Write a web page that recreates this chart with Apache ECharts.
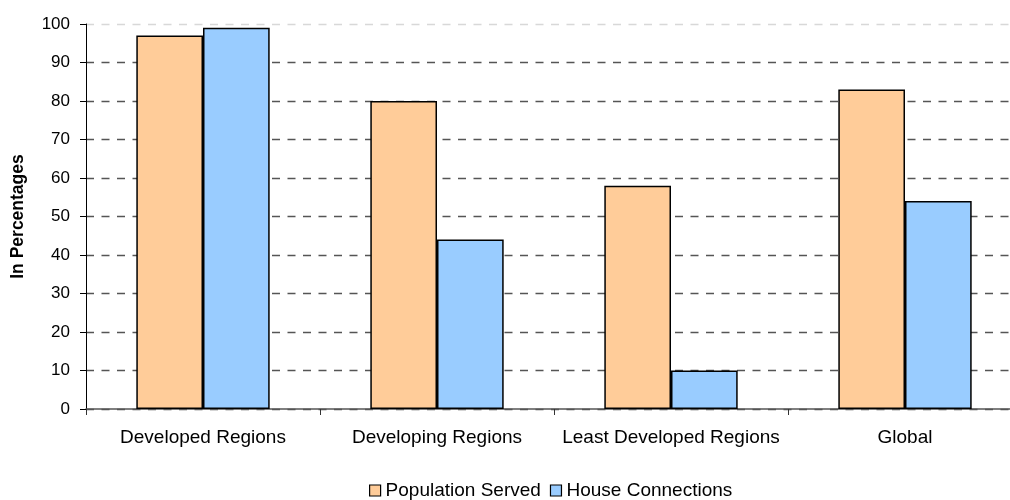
<!DOCTYPE html>
<html><head><meta charset="utf-8">
<script src="https://cdn.jsdelivr.net/npm/echarts@6/dist/echarts.min.js"></script>
<style>html,body{margin:0;padding:0;background:#fff;overflow:hidden;width:1010px;height:500px}#c{width:1022px;height:500px}</style>
</head><body><div id="c"></div>
<script>
const categories = ['Developed Regions', 'Developing Regions', 'Least Developed Regions', 'Global'];
const populationServed = [97, 80, 58, 83];
const houseConnections = [99, 44, 10, 54];
const yTicks = { min: 0, max: 100, interval: 10 };

const chart = echarts.init(document.getElementById('c'));
const font = 'Liberation Sans, Arial, sans-serif';
const gridColors = ['#555','#555','#555','#555','#555','#555','#555','#555','#555','#555','#d8d8d8'];
chart.setOption({
  animation: false,
  textStyle: { fontFamily: font },
  grid: { left: 86, top: 24, bottom: 91, right: 0, containLabel: false },
  legend: {
    top: 481, left: 369, padding: 0, itemWidth: 11, itemHeight: 11, itemGap: 9,
    icon: 'rect',
    textStyle: { fontSize: 19, color: '#000', fontFamily: font },
    itemStyle: { borderColor: '#000', borderWidth: 1.2 },
    data: ['Population Served', 'House Connections']
  },
  xAxis: {
    type: 'category', data: categories,
    axisLine: { lineStyle: { color: '#555', width: 1.5 } },
    axisTick: { show: true, length: 6, interval: 0, lineStyle: { color: '#333', width: 1 } },
    axisLabel: { fontSize: 19, color: '#000', margin: 19, interval: 0, fontFamily: font }
  },
  yAxis: {
    type: 'value', min: yTicks.min, max: yTicks.max, interval: yTicks.interval,
    name: 'In Percentages', nameLocation: 'middle', nameGap: 59, nameRotate: 90,
    nameTextStyle: { fontSize: 17.5, fontWeight: 'bold', color: '#000', fontFamily: font },
    axisLine: { show: true, lineStyle: { color: '#000', width: 1 } },
    axisTick: { show: true, length: 6, lineStyle: { color: '#000' } },
    axisLabel: { fontSize: 17, color: '#000', margin: 16, fontFamily: font },
    splitLine: { show: true, lineStyle: { color: gridColors, type: [8, 7.5], width: 1.4 } }
  },
  series: [
    { name: 'Population Served', type: 'bar', data: populationServed, barGap: '0%', barCategoryGap: '43%',
      itemStyle: { color: '#FFCC99', borderColor: '#000', borderWidth: 1.5 } },
    { name: 'House Connections', type: 'bar', data: houseConnections,
      itemStyle: { color: '#99CCFF', borderColor: '#000', borderWidth: 1.5 } }
  ]
});
</script></body></html>
